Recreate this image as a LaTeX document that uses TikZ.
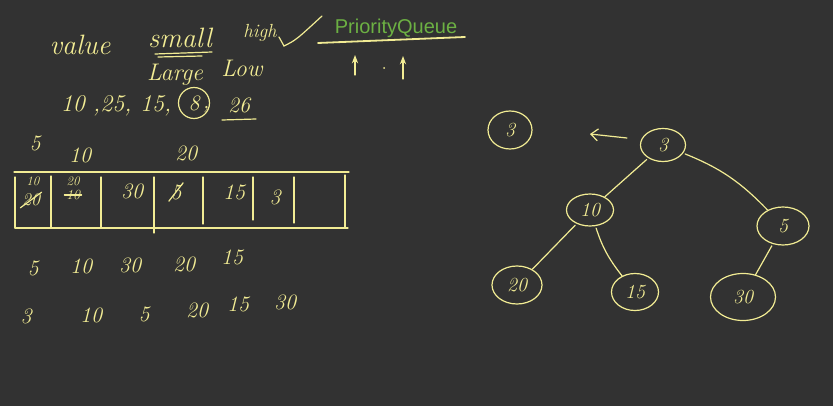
\documentclass[tikz,border=0pt]{standalone}
\usepackage{fontspec}
\setsansfont{Liberation Sans}
\usetikzlibrary{
    positioning,
    arrows.meta,
    shapes.geometric
}
\definecolor{pizarra}{HTML}{323232}
\definecolor{tiza}{HTML}{F2EC94}
\definecolor{verde}{HTML}{6CB043}
\tikzset{
    >=Stealth,
    escrito/.style={
        text=tiza,
        font=\itshape\fontsize{28}{28}\selectfont,
        inner sep=1pt
    },
    numero/.style={
        text=tiza,
        font=\itshape\fontsize{22}{22}\selectfont,
        inner sep=1pt
    },
    chico/.style={
        text=tiza,
        font=\itshape\fontsize{13}{13}\selectfont,
        inner sep=0pt
    },
    nodo/.style={
        ellipse,
        draw=tiza,
        text=tiza,
        inner sep=0pt,
        font=\itshape\fontsize{20}{20}\selectfont
    },
    trazo/.style={
        draw=tiza,
        line cap=round
    }
}

\begin{document}
\begin{tikzpicture}[
    x=1pt, y=-1pt,
    line width=1.2pt
]

    \fill[pizarra] (0,0) rectangle (833,406);
    \useasboundingbox (0,0) rectangle (833,406);

    % Encabezado
    \node[escrito] (value) at (80,45) {value};
    \node[escrito] (small) at (180,38) {small};
    \node[escrito, font=\itshape\fontsize{19}{19}\selectfont]
        (high) at (260,33) {high};
    \node[escrito, font=\itshape\fontsize{24}{24}\selectfont]
        (large) at (175,75) {Large};
    \node[escrito, font=\itshape\fontsize{24}{24}\selectfont]
        (low) at (242,68) {Low};
    \node[text=verde, font=\sffamily\fontsize{20}{20}\selectfont, inner sep=0pt]
        (pq) at (396,28) {PriorityQueue};

    \draw[trazo] (155,54) -- (212,52);
    \draw[trazo] (158,57) -- (202,56);
    \draw[trazo] (279,37) -- (284,46) .. controls (296,40) .. (322,16);
    \draw[trazo, line width=1.8pt] (318,43) -- (465,37);
    \draw[trazo, ->] (355,75) -- (355,55);
    \draw[trazo, ->] (403,79) -- (403,56);
    \fill[tiza] (384,68) circle (1pt);

    % Secuencia
    \node[numero, font=\itshape\fontsize{24}{24}\selectfont]
        (seq) at (116,106) {10 ,25, 15,};
    \node[numero, circle, draw=tiza, minimum size=31pt]
        (ocho) at (194,103) {8};
    \node[numero, right=-4pt of ocho.south east, anchor=south west]
        (coma) {,};
    \node[numero] (vseis) at (239,105) {26};
    \draw[trazo] (222,120) -- (256,119);

    % Fila superior
    \node[numero] (a5)  at (35,143) {5};
    \node[numero] (a10) at (80,155) {10};
    \node[numero] (a20) at (186,153) {20};

    % Tabla
    \draw[trazo] (14,172) -- (349,172);
    \draw[trazo] (15,228) -- (348,228);
    \foreach \x/\y/\z in {15/177/228, 51/176/228, 101/177/228,
                          154/177/233, 203/177/224, 253/177/220,
                          294/177/223, 345/175/228}
        \draw[trazo] (\x,\y) -- (\x,\z);

    \node[chico] (c1a) at (33,181) {10};
    \node[numero, font=\itshape\fontsize{18}{18}\selectfont]
        (c1b) at (31,200) {20};
    \node[chico] (c2a) at (73,181) {20};
    \node[numero, font=\itshape\fontsize{14}{14}\selectfont]
        (c2b) at (73,195) {10};
    \node[numero] (c3) at (132,191) {30};
    \node[numero] (c4) at (176,192) {5};
    \node[numero] (c5) at (234,192) {15};
    \node[numero] (c6) at (275,197) {3};

    \draw[trazo] (c1b.south west) -- (c1b.north east);
    \draw[trazo] (c2b.west) -- (c2b.east);
    \draw[trazo] (c4.south west) -- (c4.north east);

    % Filas inferiores
    \node[numero] (b5)  at (33,268) {5};
    \node[numero] (b10) at (81,266) {10};
    \node[numero] (b30) at (130,265) {30};
    \node[numero] (b20) at (184,264) {20};
    \node[numero] (b15) at (232,257) {15};

    \node[numero] (d3)  at (26,316) {3};
    \node[numero] (d10) at (91,315) {10};
    \node[numero] (d5)  at (144,314) {5};
    \node[numero] (d20) at (197,310) {20};
    \node[numero] (d15) at (238,304) {15};
    \node[numero] (d30) at (285,302) {30};

    % Arbol
    \node[nodo, minimum width=44pt, minimum height=38pt] (suelto) at (510,130) {3};
    \node[nodo, minimum width=45pt, minimum height=33pt] (raiz)   at (663,145) {3};
    \node[nodo, minimum width=47pt, minimum height=32pt] (n10)    at (590,210) {10};
    \node[nodo, minimum width=52pt, minimum height=38pt] (n5)     at (783,226) {5};
    \node[nodo, minimum width=50pt, minimum height=38pt] (n20)    at (517,285) {20};
    \node[nodo, minimum width=47pt, minimum height=37pt] (n15)    at (635,292) {15};
    \node[nodo, minimum width=65pt, minimum height=47pt] (n30)    at (743,297) {30};

    \coordinate (fuera) at (590,134);

    \path[trazo]
        (raiz)
            edge[shorten <=2pt] (n10)
            edge[bend left=12, shorten <=2pt] (n5)
        (n10)
            edge[shorten <=2pt] (n20)
            edge[bend right=10, shorten <=2pt] (n15)
        (n5)
            edge[shorten <=2pt] (n30);

    \draw[trazo, -{Straight Barb[length=7pt, width=12pt]}]
        (raiz.west) ++(-13,-7) -- (fuera);

\end{tikzpicture}
\end{document}
